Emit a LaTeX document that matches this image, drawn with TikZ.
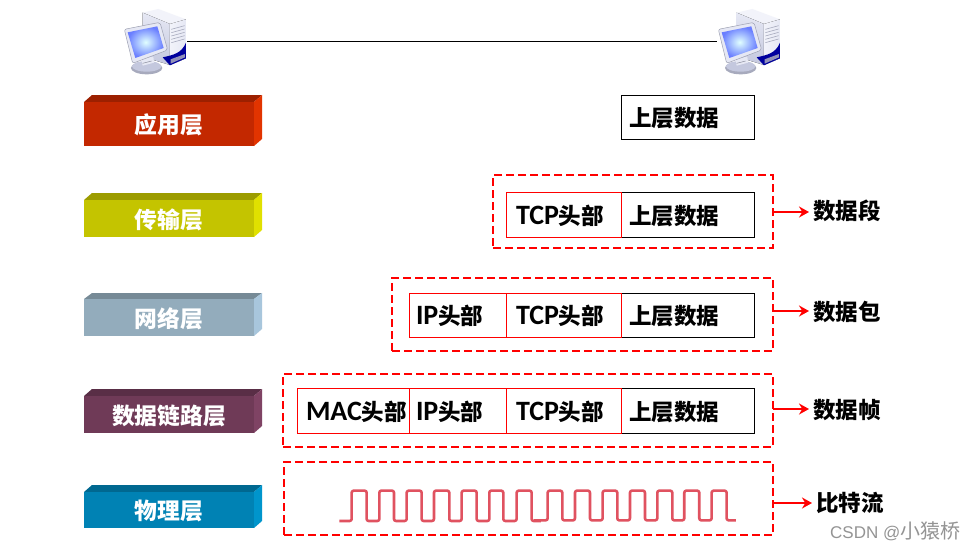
\documentclass[tikz,border=0pt]{standalone}
\usepackage{fontspec}
\usetikzlibrary{arrows.meta}
\setmainfont{Noto Sans CJK SC}
\newfontfamily\lat{Carlito}
\newfontfamily\wml{Liberation Sans}
\newcommand{\hz}[1]{{\lat\fontsize{28}{25}\selectfont\bfseries #1}}
\definecolor{rd}{HTML}{FF0000}
\definecolor{wave}{HTML}{E05260}
\definecolor{aF}{HTML}{C32800}\definecolor{aT}{HTML}{9C2000}\definecolor{aS}{HTML}{E23400}
\definecolor{tF}{HTML}{C4C400}\definecolor{tT}{HTML}{9C9C00}\definecolor{tS}{HTML}{E0E000}
\definecolor{nF}{HTML}{93ACBC}\definecolor{nT}{HTML}{768A96}\definecolor{nS}{HTML}{A8C6DC}
\definecolor{lF}{HTML}{6F3A57}\definecolor{lT}{HTML}{592E46}\definecolor{lS}{HTML}{7F4364}
\definecolor{pF}{HTML}{0082B4}\definecolor{pT}{HTML}{006890}\definecolor{pS}{HTML}{0095CC}
\definecolor{pcA}{HTML}{E6E8F4}\definecolor{pcB}{HTML}{C4C8DE}\definecolor{pcC}{HTML}{F2F3FA}
\tikzset{
  pdu/.style={draw,line width=0.9pt,inner ysep=0pt,outer sep=0pt,anchor=north west,align=left,text height=21pt,text depth=2pt,font=\fontsize{22.5}{22.5}\selectfont\bfseries,text=black},
  dashbox/.style={draw=rd,line width=1.8pt,dash pattern=on 8pt off 4pt,inner sep=0pt,outer sep=0pt,anchor=north west},
  pduname/.style={font=\fontsize{22.5}{22.5}\selectfont\bfseries,inner sep=0pt,anchor=west},
  namearrow/.style={draw=rd,line width=2.4pt,shorten >=4pt,-{Stealth[length=10pt,width=11pt]}},
}
% name x0 y0 x1 y1 inset text colour
\newcommand{\pdubox}[8]{%
  \pgfmathsetmacro{\bw}{#4-#2}\pgfmathsetmacro{\bh}{#5-#3}\pgfmathsetmacro{\tw}{#4-#2-2*#6}%
  \node[pdu,draw=#8,minimum width=\bw pt,minimum height=\bh pt,text width=\tw pt,inner xsep=#6 pt] (#1) at (#2,#3) {#7};}
\newcommand{\dbox}[5]{%
  \pgfmathsetmacro{\bw}{#4-#2}\pgfmathsetmacro{\bh}{#5-#3}%
  \node[dashbox,minimum width=\bw pt,minimum height=\bh pt] (#1) at (#2,#3) {};}
% name ytop yfront ybottom front top side label
\newcommand{\layer}[8]{%
  \fill[#6] (84,#3) -- (92,#2) -- (262,#2) -- (254,#3) -- cycle;
  \fill[#7] (254,#3) -- (262,#2) -- (262,#4-7) -- (254,#4) -- cycle;
  \pgfmathsetmacro{\bh}{#4-#3}%
  \node[fill=#5,minimum width=170pt,minimum height=\bh pt,inner sep=0pt,outer sep=0pt,anchor=north west,
        text height=21pt,text depth=2pt,text=white,font=\fontsize{22.8}{22.8}\selectfont\bfseries] (#1) at (84,#3) {#8};}
\newcommand{\computer}[2]{%
\begin{scope}[shift={(#1,#2)},x=0.3333pt,y=-0.3333pt]
  % tower
  \fill[pcC] (218,38) -- (265,27) -- (348,58) -- (300,72) -- cycle;
  \fill[top color=pcA,bottom color=pcB] (218,38) -- (300,72) -- (300,195) -- (218,170) -- cycle;
  \fill[left color=pcC,right color=pcA] (300,72) -- (348,58) -- (348,175) -- (300,195) -- cycle;
  \foreach \yy in {88,98,108,118,128} \draw[pcB!85!black,line width=.6pt] (304,\yy) -- (344,\yy-11);
  \fill[blue!62!black] (278,172) .. controls (310,165) and (335,160) .. (348,128) -- (348,175) -- (300,196) -- cycle;
  \fill[blue!22!gray!70!white] (302,178) -- (345,162) -- (345,172) -- (302,191) -- cycle;
  % base and stand
  \fill[pcB!85!black] (230,204) ellipse [x radius=47,y radius=19];
  \fill[pcB] (230,199) ellipse [x radius=44,y radius=16];
  \fill[pcA] (214,176) -- (250,170) -- (252,188) -- (218,197) -- cycle;
  \draw[pcB!70!black,line width=.5pt] (218,190) -- (245,183);
  % monitor
  \fill[pcA,draw=pcB!80!black,line width=.5pt,rounded corners=2pt] (163,88) -- (270,67) -- (293,150) -- (188,190) -- cycle;
  \shade[inner color=cyan!12!white,outer color=blue!55!white!92!cyan] (173,97) -- (262,79) -- (281,144) -- (196,174) -- cycle;
\end{scope}}
\begin{document}
\begin{tikzpicture}[x=1pt,y=-1pt]
\useasboundingbox (0,0) rectangle (977,551);
\fill[white] (0,0) rectangle (977,551);
\computer{70}{0}
\computer{664}{0}
\coordinate (pcL) at (187,41.5);
\coordinate (pcR) at (717,41.5);
\draw[black,line width=1pt] (pcL) -- (pcR);

\layer{app}{95}{102}{146}{aF}{aT}{aS}{应用层}
\layer{trans}{193}{200}{237}{tF}{tT}{tS}{传输层}
\layer{net}{293}{299}{336}{nF}{nT}{nS}{网络层}
\layer{link}{389}{396}{433}{lF}{lT}{lS}{数据链路层}
\layer{phys}{485}{492}{528}{pF}{pT}{pS}{物理层}

\pdubox{d1}{621}{95}{754}{139}{8}{上层数据}{black}

\dbox{seg}{493}{175}{773}{248}
\pdubox{d2}{621}{192}{754}{237}{8}{上层数据}{black}
\pdubox{t2}{506}{192}{621}{237}{10}{\hz{TCP}头部}{rd}

\dbox{pkt}{392}{278}{773}{351}
\pdubox{d3}{621}{293}{754}{337}{8}{上层数据}{black}
\pdubox{t3}{506}{293}{621}{337}{10}{\hz{TCP}头部}{rd}
\pdubox{i3}{409}{293}{506}{337}{7}{\hz{IP}头部}{rd}

\dbox{frm}{283}{374}{773}{447}
\pdubox{d4}{621}{388}{754}{433}{8}{上层数据}{black}
\pdubox{t4}{506}{388}{621}{433}{10}{\hz{TCP}头部}{rd}
\pdubox{i4}{409}{388}{506}{433}{7}{\hz{IP}头部}{rd}
\pdubox{m4}{297}{388}{409}{433}{9}{\hz{MAC}头部}{rd}

\dbox{bits}{284}{462}{773}{535}

\node[pduname] (nseg) at (813,210.5) {数据段};
\node[pduname] (npkt) at (813,311.5) {数据包};
\node[pduname] (nfrm) at (813,410.5) {数据帧};
\node[pduname] (nbit) at (816,502.5) {比特流};
\coordinate (yseg) at (0,212);\coordinate (ypkt) at (0,311);\coordinate (yfrm) at (0,409);\coordinate (ybit) at (0,503);
\draw[namearrow] (seg.east |- yseg) -- (nseg.west |- yseg);
\draw[namearrow] (pkt.east |- ypkt) -- (npkt.west |- ypkt);
\draw[namearrow] (frm.east |- yfrm) -- (nfrm.west |- yfrm);
\draw[namearrow] (bits.east |- ybit) -- (nbit.west |- ybit);

\begin{scope}[shift={(280,450)},x=0.3333pt,y=-0.3333pt]
\draw[wave,line width=2.6pt,line join=round,rounded corners=2pt]
 (178,213) -- (215,213) -- (215,122) -- (260,122) -- (260,213) -- (298,213) -- (298,122) -- (342,122) -- (342,213)
 -- (380,213) -- (380,122) -- (425,122) -- (425,213) -- (462,213) -- (462,122) -- (508,122) -- (508,213)
 -- (545,213) -- (545,122) -- (590,122) -- (590,213) -- (628,213) -- (628,122) -- (670,122) -- (670,213)
 -- (710,213) -- (710,122) -- (755,122) -- (755,213) -- (783,213);
\draw[wave,line width=2.6pt,line join=round,rounded corners=2pt]
 (762,211) -- (803,211) -- (803,122) -- (847,122) -- (847,211) -- (885,211) -- (885,122) -- (930,122) -- (930,211)
 -- (968,211) -- (968,122) -- (1012,122) -- (1012,211) -- (1050,211) -- (1050,122) -- (1095,122) -- (1095,211)
 -- (1132,211) -- (1132,122) -- (1177,122) -- (1177,211) -- (1213,211) -- (1213,122) -- (1258,122) -- (1258,211)
 -- (1295,211) -- (1295,122) -- (1340,122) -- (1340,211) -- (1368,211);
\end{scope}

\node[text=black!42,font=\wml\fontsize{17}{17}\selectfont,inner sep=0pt,anchor=west] (wmk) at (830,531.5) {CSDN @{\fontspec{Noto Sans CJK SC}\fontsize{20}{20}\selectfont 小猿桥}};
\end{tikzpicture}
\end{document}
